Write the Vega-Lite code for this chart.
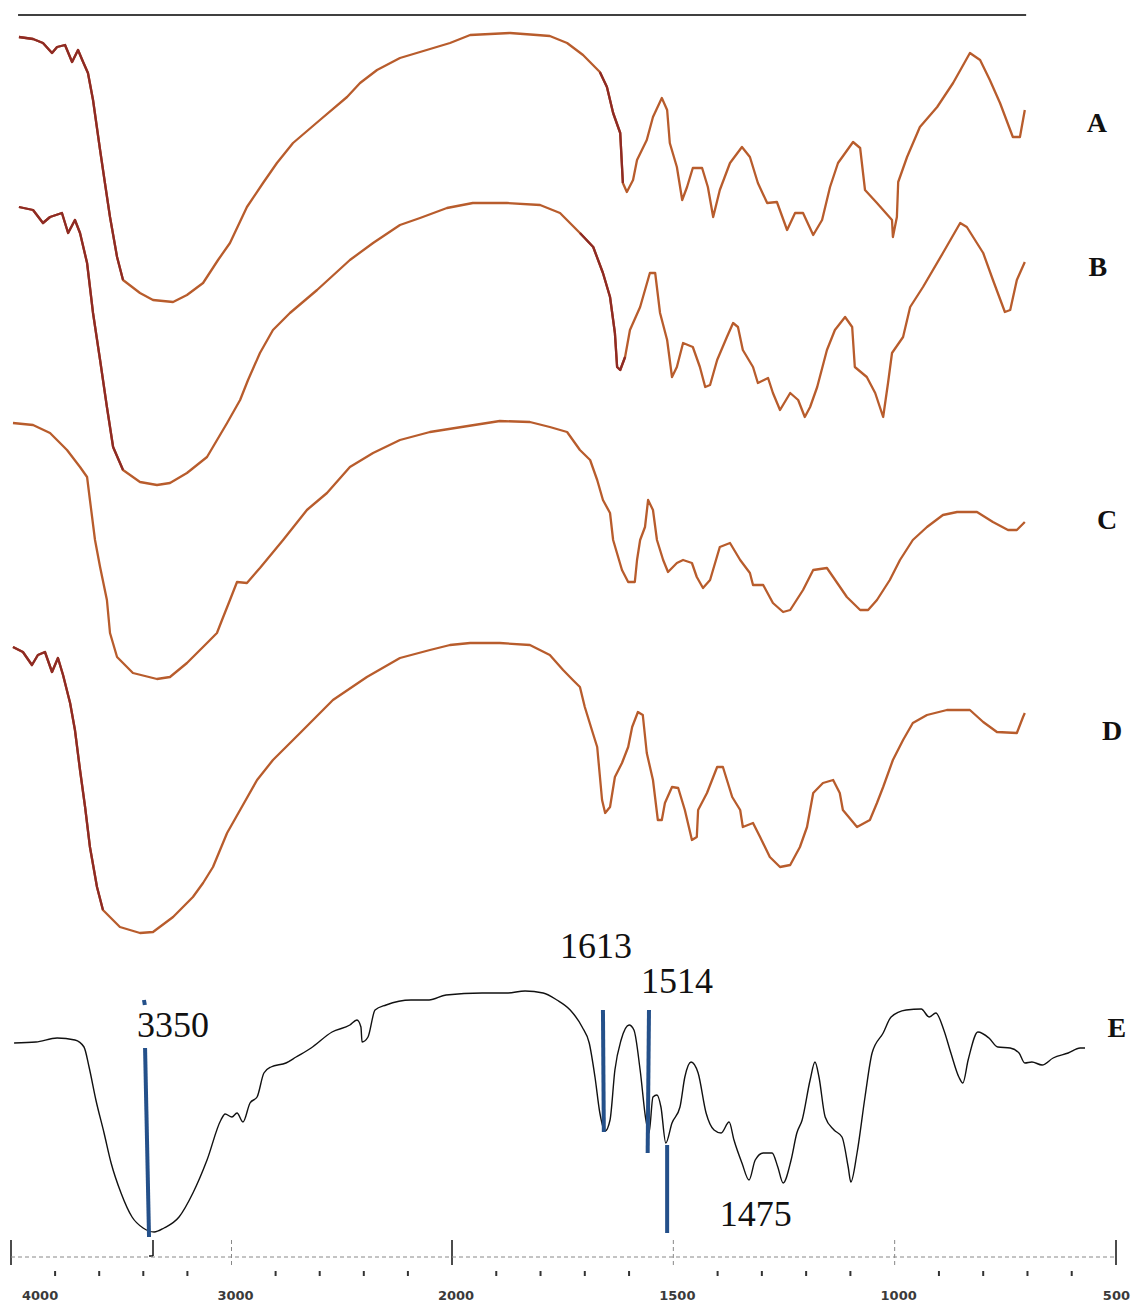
{
  "$schema": "https://vega.github.io/schema/vega-lite/v6.json",
  "width": 1131,
  "height": 1304,
  "autosize": "none",
  "padding": 0,
  "background": "white",
  "config": {"view": {"stroke": null}},
  "datasets": {
    "spectra": [
      {"s": "A",
       "wn": [3964,3900,3855,3814,3791,3755,3723,3696,3673,3651,3628,3596,3574,3551,3519,3492,3415,3356,3265,3202,3129,3061,3007,2930,2857,2794,2721,2599,2476,2417,2340,2236,2145,2009,1959,1869,1808,1779,1740,1704,1666,1650,1636,1620,1614,1605,1591,1582,1560,1546,1526,1514,1508,1492,1480,1469,1456,1435,1422,1410,1395,1372,1345,1327,1309,1288,1266,1243,1225,1207,1184,1164,1146,1128,1094,1078,1067,1040,1006,1004,995,992,972,943,904,868,830,807,785,762,733,717,706],
       "t": [126.7,126.5,126.1,125.1,125.7,125.9,124.2,125.4,124.2,123.1,120.4,115.4,112.1,108.7,104.7,102.4,101.1,100.4,100.2,100.9,102.1,104.4,106.1,109.7,112.1,114.1,116.1,118.4,120.7,122.1,123.4,124.6,125.2,126.1,126.9,127.1,126.9,126.8,126.1,124.9,123.2,121.7,119.1,117.1,112.1,111.2,112.4,114.4,116.4,118.7,120.6,119.4,116.1,113.7,110.4,111.7,113.6,113.6,111.7,108.7,111.4,114.1,115.7,114.7,112.1,110.1,110.2,107.4,109.1,109.1,106.9,108.4,111.7,114.1,116.2,115.6,111.4,110.1,108.4,106.7,108.7,112.2,114.7,117.7,119.7,122.1,125.1,124.4,122.4,120.1,116.7,116.7,119.4]},
      {"s": "B",
       "wn": [3964,3900,3855,3823,3769,3741,3710,3687,3655,3628,3596,3565,3537,3492,3415,3338,3279,3202,3111,3020,2961,2925,2871,2812,2735,2612,2463,2358,2236,2145,2023,1953,1876,1801,1756,1711,1681,1659,1643,1632,1627,1620,1609,1598,1575,1553,1541,1530,1514,1503,1492,1478,1456,1440,1428,1417,1401,1379,1365,1354,1343,1320,1309,1286,1275,1259,1236,1218,1203,1191,1175,1153,1135,1112,1096,1090,1063,1044,1026,1015,1006,981,965,936,891,852,837,800,778,751,739,724,706],
       "t": [109.7,109.4,108.1,108.7,109.1,107.1,108.4,107.1,104.1,99.1,94.4,89.7,85.7,83.4,82.2,81.9,82.1,83.1,84.7,88.1,90.4,92.4,95.1,97.4,99.1,101.4,104.4,106.1,107.9,108.6,109.6,110.1,110.1,109.9,109.1,107.1,105.7,103.1,100.7,97.1,93.7,93.4,94.7,97.4,99.7,103.1,103.1,99.1,96.4,92.7,93.7,96.1,95.7,93.7,91.7,91.9,94.4,96.7,98.1,97.7,95.4,93.7,92.1,92.6,91.1,89.4,91.1,90.4,88.7,89.7,91.7,95.4,97.4,98.7,97.7,93.7,92.7,91.1,88.7,92.1,95.1,96.7,99.7,101.7,105.1,108.1,107.7,105.1,102.4,99.2,99.4,102.4,104.2]},
      {"s": "C",
       "wn": [3991,3900,3823,3746,3687,3655,3642,3619,3596,3565,3551,3519,3447,3338,3279,3202,3111,3066,3043,3007,2975,2930,2871,2766,2658,2567,2463,2358,2236,2100,1964,1892,1824,1779,1740,1711,1688,1672,1659,1643,1636,1616,1602,1587,1582,1575,1564,1557,1546,1537,1523,1512,1492,1478,1458,1447,1433,1417,1395,1372,1349,1327,1320,1297,1275,1252,1236,1207,1184,1153,1139,1108,1078,1060,1040,1011,988,959,927,891,859,814,778,744,724,706],
       "t": [88.1,87.9,87.1,85.4,83.7,82.7,80.4,76.4,73.7,70.4,67.1,64.7,63.1,62.5,62.7,64.1,66.1,67.1,68.4,70.4,72.2,72.1,73.6,76.4,79.4,81.1,83.7,85.1,86.4,87.2,87.8,88.3,88.2,87.7,87.2,85.4,84.4,82.4,80.4,79.1,76.4,73.4,72.2,72.2,74.4,76.4,77.7,80.4,79.4,76.4,74.4,73.2,74.1,74.4,74.1,72.7,71.6,72.4,75.7,76.1,74.4,73.1,71.9,71.9,70.1,69.2,69.4,71.4,73.4,73.6,72.7,70.7,69.4,69.4,70.4,72.4,74.4,76.4,77.7,78.9,79.2,79.2,78.2,77.4,77.4,78.2]},
      {"s": "D",
       "wn": [3991,3946,3905,3878,3846,3814,3787,3764,3732,3710,3687,3664,3642,3610,3583,3506,3415,3356,3265,3175,3129,3084,3020,2961,2884,2812,2689,2540,2386,2236,2100,2009,1959,1892,1824,1779,1749,1727,1711,1700,1684,1672,1661,1654,1643,1632,1616,1602,1593,1580,1569,1560,1546,1535,1526,1519,1503,1489,1474,1458,1447,1444,1424,1401,1388,1367,1349,1343,1320,1304,1282,1259,1236,1214,1198,1184,1162,1139,1124,1117,1085,1056,1040,1026,1004,981,959,927,882,830,800,769,724,710,706],
       "t": [65.7,65.2,63.9,64.9,65.2,63.2,64.6,62.9,60.1,57.4,53.4,49.7,45.7,41.7,39.4,37.7,37.1,37.2,38.7,40.7,42.1,43.7,47.1,49.4,52.4,54.4,57.1,60.4,62.7,64.6,65.4,65.9,66.1,66.1,65.9,64.9,63.4,62.4,61.7,59.7,57.4,55.7,50.4,49.1,49.7,52.7,54.1,55.7,57.7,59.2,58.9,55.1,52.4,48.4,48.4,50.1,51.7,51.6,49.4,46.4,46.7,49.4,51.1,53.7,53.7,50.7,49.4,47.7,48.1,46.7,44.7,43.7,43.9,45.7,47.7,51.1,52.1,52.4,51.1,49.4,47.7,48.4,50.1,51.7,54.4,56.4,58.1,58.9,59.4,59.4,58.2,57.2,57.1,58.7,59.1]},
      {"s": "E",
       "wn": [3986,3887,3791,3710,3669,3646,3615,3578,3546,3501,3451,3401,3351,3306,3238,3175,3111,3048,3029,2998,2975,2948,2916,2884,2853,2821,2753,2707,2639,2544,2463,2431,2413,2408,2381,2349,2299,2186,2104,2027,1932,1876,1835,1794,1763,1733,1706,1690,1677,1666,1654,1643,1632,1618,1600,1589,1575,1562,1555,1546,1537,1528,1517,1503,1485,1474,1460,1444,1426,1408,1392,1374,1363,1345,1329,1315,1297,1277,1264,1252,1234,1221,1209,1191,1180,1171,1157,1137,1119,1105,1099,1085,1067,1051,1026,1008,974,940,922,907,889,873,855,846,834,812,787,767,739,719,706,690,667,642,608,581,570],
       "t": [26.1,26.2,26.6,26.4,25.7,23.7,20.4,17.1,14.1,11.1,8.7,7.6,7.2,7.6,8.7,11.1,14.4,18.4,19.0,18.7,19.1,18.2,20.1,20.7,23.1,23.7,24.1,24.7,25.6,27.2,27.9,28.4,27.7,26.2,26.7,29.4,29.9,30.4,30.4,30.9,31.1,31.1,31.3,31.1,30.4,29.4,27.7,26.1,22.7,19.1,17.3,18.4,23.4,26.4,27.9,27.4,23.4,18.4,17.1,20.7,20.9,19.7,16.1,18.1,19.7,22.7,24.2,23.1,19.1,17.4,17.1,18.2,16.4,14.1,12.4,14.4,15.1,15.1,13.7,12.1,14.4,17.1,18.4,22.4,24.2,22.7,18.7,17.4,16.7,13.7,12.2,15.1,20.7,25.1,27.1,28.7,29.4,29.5,28.7,29.1,27.4,25.1,22.7,22.1,24.4,27.2,26.6,25.7,25.6,25.1,24.1,24.2,23.9,24.6,25.1,25.6,25.6]}
    ]
  },
  "encoding": {
    "x": {"field": "wn", "type": "quantitative", "axis": null,
          "scale": {"domain": [4000, 2000, 500], "range": [11, 452, 1116], "zero": false, "nice": false, "clamp": false}},
    "y": {"field": "t", "type": "quantitative", "axis": null,
          "scale": {"domain": [0, 130.4], "range": [1304, 0], "zero": false, "nice": false}}
  },
  "layer": [
    {
      "data": {"values": [{"wn": 3968, "wn2": 703, "t": 128.9, "t2": 128.9}]},
      "mark": {"type": "rule", "color": "black", "strokeWidth": 1.6},
      "encoding": {"x2": {"field": "wn2"}, "y2": {"field": "t2"}}
    },
    {
      "data": {"name": "spectra"},
      "transform": [{"flatten": ["wn", "t"]}],
      "layer": [
        {
          "transform": [{"filter": "datum.s !== 'E'"}],
          "mark": {"type": "line", "color": "#b85c2c", "strokeWidth": 2.3, "strokeJoin": "round"},
          "encoding": {"detail": {"field": "s"}}
        },
        {
          "transform": [{"filter": "(datum.s === 'A' || datum.s === 'B') && datum.wn >= 3480"}],
          "mark": {"type": "line", "color": "#8e2a24", "strokeWidth": 2.3, "strokeJoin": "round"},
          "encoding": {"detail": {"field": "s"}}
        },
        {
          "transform": [{"filter": "datum.s === 'D' && datum.wn >= 3560"}],
          "mark": {"type": "line", "color": "#8e2a24", "strokeWidth": 2.3, "strokeJoin": "round"},
          "encoding": {"detail": {"field": "s"}}
        },
        {
          "transform": [{"filter": "datum.s === 'A' && datum.wn <= 1680 && datum.wn >= 1614"}],
          "mark": {"type": "line", "color": "#8e2a24", "strokeWidth": 2.3, "strokeJoin": "round"},
          "encoding": {"detail": {"field": "s"}}
        },
        {
          "transform": [{"filter": "datum.s === 'B' && datum.wn <= 1720 && datum.wn >= 1609"}],
          "mark": {"type": "line", "color": "#8e2a24", "strokeWidth": 2.3, "strokeJoin": "round"},
          "encoding": {"detail": {"field": "s"}}
        },
        {
          "transform": [{"filter": "datum.s === 'E'"}],
          "mark": {"type": "line", "color": "#111111", "strokeWidth": 1.4, "interpolate": "monotone"},
          "encoding": {"detail": {"field": "s"}}
        }
      ]
    },
    {
      "data": {"values": [
        {"wn": 3397, "wn2": 3393, "t": 30.4, "t2": 29.9},
        {"wn": 3392, "wn2": 3374, "t": 25.6, "t2": 6.7},
        {"wn": 1659, "wn2": 1657, "t": 29.4, "t2": 17.2},
        {"wn": 1555, "wn2": 1558, "t": 29.4, "t2": 15.1},
        {"wn": 1514, "wn2": 1514, "t": 15.9, "t2": 7.1}
      ]},
      "mark": {"type": "rule", "color": "#24508a", "strokeWidth": 4},
      "encoding": {"x2": {"field": "wn2"}, "y2": {"field": "t2"}}
    },
    {
      "data": {"values": [
        {"label": "3350", "wn": 3429, "t": 26.7},
        {"label": "1613", "wn": 1756, "t": 34.6},
        {"label": "1514", "wn": 1573, "t": 31.1},
        {"label": "1475", "wn": 1395, "t": 7.8}
      ]},
      "mark": {"type": "text", "font": "Liberation Serif", "fontSize": 36, "align": "left", "baseline": "alphabetic", "color": "#111111"},
      "encoding": {"text": {"field": "label"}}
    },
    {
      "data": {"values": [
        {"label": "A", "wn": 543, "t": 117.2},
        {"label": "B", "wn": 541, "t": 102.8},
        {"label": "C", "wn": 520, "t": 77.5},
        {"label": "D", "wn": 509, "t": 56.4},
        {"label": "E", "wn": 498, "t": 26.7}
      ]},
      "mark": {"type": "text", "font": "Liberation Serif", "fontWeight": "bold", "fontSize": 28, "align": "center", "baseline": "alphabetic", "color": "#111111"},
      "encoding": {"text": {"field": "label"}}
    },
    {
      "data": {"values": [
        {"wn": 4000, "wn2": 4000, "t": 6.4, "t2": 3.9},
        {"wn": 2000, "wn2": 2000, "t": 6.4, "t2": 3.9},
        {"wn": 500, "wn2": 500, "t": 6.4, "t2": 3.9},
        {"wn": 3356, "wn2": 3356, "t": 6.4, "t2": 4.8},
        {"wn": 3356, "wn2": 3374, "t": 4.8, "t2": 4.8}
      ]},
      "mark": {"type": "rule", "color": "#111111", "strokeWidth": 1.5},
      "encoding": {"x2": {"field": "wn2"}, "y2": {"field": "t2"}}
    },
    {
      "data": {"values": [
        {"wn": 3000, "wn2": 3000, "t": 6.4, "t2": 3.9},
        {"wn": 1500, "wn2": 1500, "t": 6.4, "t2": 3.9},
        {"wn": 1000, "wn2": 1000, "t": 6.4, "t2": 3.9},
        {"wn": 4000, "wn2": 500, "t": 4.7, "t2": 4.7}
      ]},
      "mark": {"type": "rule", "color": "#888888", "strokeWidth": 1, "strokeDash": [4, 3]},
      "encoding": {"x2": {"field": "wn2"}, "y2": {"field": "t2"}}
    },
    {
      "data": {"values": [
        {"wn": 3800, "t": 3.3, "t2": 2.8}, {"wn": 3600, "t": 3.3, "t2": 2.8}, {"wn": 3400, "t": 3.3, "t2": 2.8}, {"wn": 3200, "t": 3.3, "t2": 2.8},
        {"wn": 2800, "t": 3.3, "t2": 2.8}, {"wn": 2600, "t": 3.3, "t2": 2.8}, {"wn": 2400, "t": 3.3, "t2": 2.8}, {"wn": 2200, "t": 3.3, "t2": 2.8},
        {"wn": 1900, "t": 3.3, "t2": 2.8}, {"wn": 1800, "t": 3.3, "t2": 2.8}, {"wn": 1700, "t": 3.3, "t2": 2.8}, {"wn": 1600, "t": 3.3, "t2": 2.8},
        {"wn": 1400, "t": 3.3, "t2": 2.8}, {"wn": 1300, "t": 3.3, "t2": 2.8}, {"wn": 1200, "t": 3.3, "t2": 2.8}, {"wn": 1100, "t": 3.3, "t2": 2.8},
        {"wn": 900, "t": 3.3, "t2": 2.8}, {"wn": 800, "t": 3.3, "t2": 2.8}, {"wn": 700, "t": 3.3, "t2": 2.8}, {"wn": 600, "t": 3.3, "t2": 2.8}
      ]},
      "mark": {"type": "rule", "color": "#333333", "strokeWidth": 2},
      "encoding": {"y2": {"field": "t2"}}
    },
    {
      "data": {"values": [
        {"label": "3000", "wn": 3000, "t": 0.4},
        {"label": "2000", "wn": 2000, "t": 0.4},
        {"label": "1500", "wn": 1500, "t": 0.4},
        {"label": "1000", "wn": 1000, "t": 0.4}
      ]},
      "mark": {"type": "text", "font": "DejaVu Sans", "fontSize": 13, "fontWeight": "bold", "align": "center", "dx": 4, "baseline": "alphabetic", "color": "#3a3a3a"},
      "encoding": {"text": {"field": "label"}}
    },
    {
      "data": {"values": [{"label": "4000", "wn": 4000, "t": 0.4}]},
      "mark": {"type": "text", "font": "DejaVu Sans", "fontSize": 13, "fontWeight": "bold", "align": "left", "dx": 11, "baseline": "alphabetic", "color": "#3a3a3a"},
      "encoding": {"text": {"field": "label"}}
    },
    {
      "data": {"values": [{"label": "500", "wn": 500, "t": 0.4}]},
      "mark": {"type": "text", "font": "DejaVu Sans", "fontSize": 13, "fontWeight": "bold", "align": "right", "dx": 14, "baseline": "alphabetic", "color": "#3a3a3a"},
      "encoding": {"text": {"field": "label"}}
    }
  ]
}
